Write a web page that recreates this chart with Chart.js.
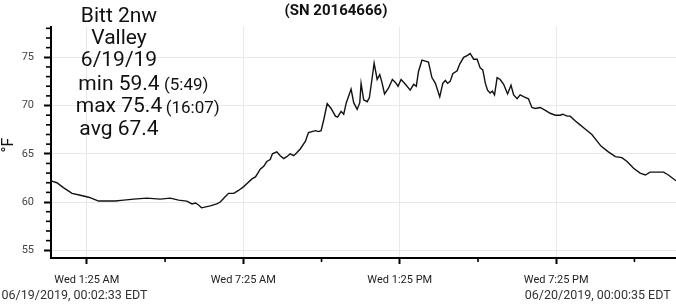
<!DOCTYPE html>
<html><head><meta charset="utf-8">
<script src="https://cdn.jsdelivr.net/npm/chart.js@4/dist/chart.umd.min.js"></script>
<style>
html,body{margin:0;padding:0;background:#fff;}
#wrap{position:relative;width:676px;height:308px;overflow:hidden;font-family:Roboto,sans-serif;}
canvas{position:absolute;left:0;top:0;}
.t{position:absolute;white-space:nowrap;line-height:1;color:#111;}
.big{font-size:21px;left:0;width:238px;text-align:center;}
.par{font-size:17px;}
</style></head><body>
<div id="wrap">
<canvas id="c" width="676" height="308"></canvas>
<div class="t" style="left:236px;top:3.4px;width:200px;text-align:center;font-size:15px;font-weight:bold;">(SN 20164666)</div>
<div class="t big" style="top:5px;">Bitt 2nw</div>
<div class="t big" style="top:27px;">Valley</div>
<div class="t big" style="top:49.3px;">6/19/19</div>
<div class="t big" style="top:73px;">min 59.4</div>
<div class="t par" style="left:164px;top:76.4px;">(5:49)</div>
<div class="t big" style="top:95px;">max 75.4</div>
<div class="t par" style="left:165.7px;top:98.5px;">(16:07)</div>
<div class="t big" style="top:118px;">avg 67.4</div>
<div class="t" style="left:1.5px;top:288.5px;font-size:12.5px;color:#333;">06/19/2019, 00:02:33 EDT</div>
<div class="t" style="right:5.3px;top:289px;font-size:12.5px;color:#333;">06/20/2019, 00:00:35 EDT</div>
<div class="t" style="left:-2px;top:137px;width:20px;text-align:center;font-size:16px;transform:rotate(-90deg);">°F</div>
</div>
<script>
const times = ["00:02:33","00:16","00:31","00:51","01:10","01:29","01:41","01:52","02:11","02:30","02:50","03:13","03:43","04:14","04:37","04:56","05:15","05:27","05:35","05:42","05:49","06:09","06:24","06:32","06:40","06:51","07:03","07:14","07:26","07:33","07:45","07:53","08:04","08:12","08:19","08:27","08:32","08:42","08:50","08:58","09:05","09:13","09:21","09:28","09:36","09:48","09:55","10:03","10:11","10:18","10:24","10:30","10:38","10:47","10:57","11:02","11:10","11:16","11:22","11:33","11:39","11:47","11:53","11:56","12:02","12:10","12:15","12:21","12:26","12:33","12:39","12:44","12:50","12:59","13:08","13:15","13:21","13:28","13:38","13:49","13:57","14:03","14:08","14:16","14:24","14:31","14:39","14:47","14:57","15:04","15:10","15:15","15:21","15:27","15:37","15:43","15:52","16:01","16:07","16:15","16:23","16:30","16:36","16:42","16:47","16:53","16:58","17:03","17:09","17:16","17:24","17:33","17:41","17:47","17:55","18:02","18:11","18:21","18:29","18:37","18:48","19:00","19:11","19:23","19:34","19:40","19:50","19:57","20:09","20:20","20:28","20:47","21:08","21:25","21:41","21:56","22:08","22:23","22:38","22:50","23:01","23:17","23:32","23:43","24:00:35"];
const tempsF = [62.2,62.0,61.5,60.9,60.7,60.5,60.3,60.1,60.1,60.1,60.2,60.3,60.4,60.3,60.4,60.2,60.1,59.8,59.9,59.7,59.4,59.6,59.8,60.0,60.4,60.9,60.9,61.2,61.6,61.9,62.4,62.6,63.4,63.7,64.2,64.4,65.0,65.2,64.8,64.5,64.7,65.0,64.8,65.1,65.5,66.3,67.2,67.3,67.4,67.3,67.4,68.5,70.2,69.7,68.9,68.8,69.4,69.1,70.3,71.7,70.3,69.6,70.3,72.3,70.6,70.4,70.8,72.7,74.4,72.7,73.2,72.4,71.2,71.8,72.7,72.4,72.0,72.7,72.2,71.6,72.2,72.0,73.5,74.7,74.6,74.5,72.9,72.3,70.9,72.3,72.6,72.3,72.5,73.3,73.6,74.3,75.0,75.2,75.4,74.8,74.8,73.9,73.7,72.3,71.6,71.3,71.5,71.1,72.9,72.7,72.2,71.2,72.1,71.1,70.7,71.1,70.9,70.7,69.8,69.7,69.8,69.5,69.2,69.0,69.0,69.1,68.9,68.9,68.4,68.0,67.7,67.0,65.8,65.2,64.7,64.6,64.2,63.5,63.0,62.8,63.1,63.1,63.1,62.8,62.2];
const startTime = "00:02:33";
const endTime = "24:00:35";
const xTickTimes = ["01:25","07:25","13:25","19:25"];
const xTickLabels = ["Wed 1:25 AM","Wed 7:25 AM","Wed 1:25 PM","Wed 7:25 PM"];
const xMinorTimes = ["04:25","10:25","16:25","22:25"];
const yTicks = [55,60,65,70,75];
const yMinorTicks = [56,57,58,59,61,62,63,64,66,67,68,69,71,72,73,74,76,77,78];

function toHours(s){const p=s.split(':').map(Number);return p[0]+p[1]/60+(p[2]||0)/3600;}
const points = times.map((t,i)=>({x:toHours(t), y:tempsF[i]}));

const minorTicks = {id:'minorTicks', afterDraw(chart){
  const {ctx, scales:{x,y}, chartArea:a} = chart;
  ctx.save(); ctx.strokeStyle='#000'; ctx.lineWidth=1.6;
  yMinorTicks.forEach(v=>{ const py=y.getPixelForValue(v); ctx.beginPath(); ctx.moveTo(a.left-5,py); ctx.lineTo(a.left,py); ctx.stroke(); });
  xMinorTimes.forEach(t=>{ const px=x.getPixelForValue(toHours(t)); ctx.beginPath(); ctx.moveTo(px,a.bottom); ctx.lineTo(px,a.bottom+4); ctx.stroke(); });
  ctx.restore();
}};

new Chart(document.getElementById('c'), {
  type:'line',
  data:{datasets:[{data:points, borderColor:'#111', borderWidth:1.4, pointRadius:0, tension:0, fill:false}]},
  options:{
    responsive:false, animation:false, devicePixelRatio:1,
    layout:{padding:{top:27,right:0,left:0,bottom:0}},
    plugins:{legend:{display:false}, tooltip:{enabled:false}, title:{display:false}},
    scales:{
      x:{type:'linear', min:toHours(startTime), max:toHours(endTime),
        afterBuildTicks:s=>{ s.ticks = xTickTimes.map(t=>({value:toHours(t)})); },
        afterFit:s=>{ s.height = 50; },
        ticks:{callback:(v,i)=>xTickLabels[i], font:{family:'Roboto',size:11}, color:'#222', padding:10, maxRotation:0, autoSkip:false},
        grid:{color:'#e8e8e8', tickColor:'#000', tickLength:6, lineWidth:1, tickWidth:2},
        border:{color:'#000', width:2}
      },
      y:{min:54.2, max:78.14,
        afterBuildTicks:s=>{ s.ticks = yTicks.map(v=>({value:v})); },
        afterFit:s=>{ s.width = 51; },
        ticks:{font:{family:'Roboto',size:11}, color:'#444', padding:10},
        grid:{color:'#e8e8e8', tickColor:'#000', tickLength:7, lineWidth:1, tickWidth:2},
        border:{color:'#000', width:2}
      }
    }
  },
  plugins:[minorTicks]
});
</script>
</body></html>
